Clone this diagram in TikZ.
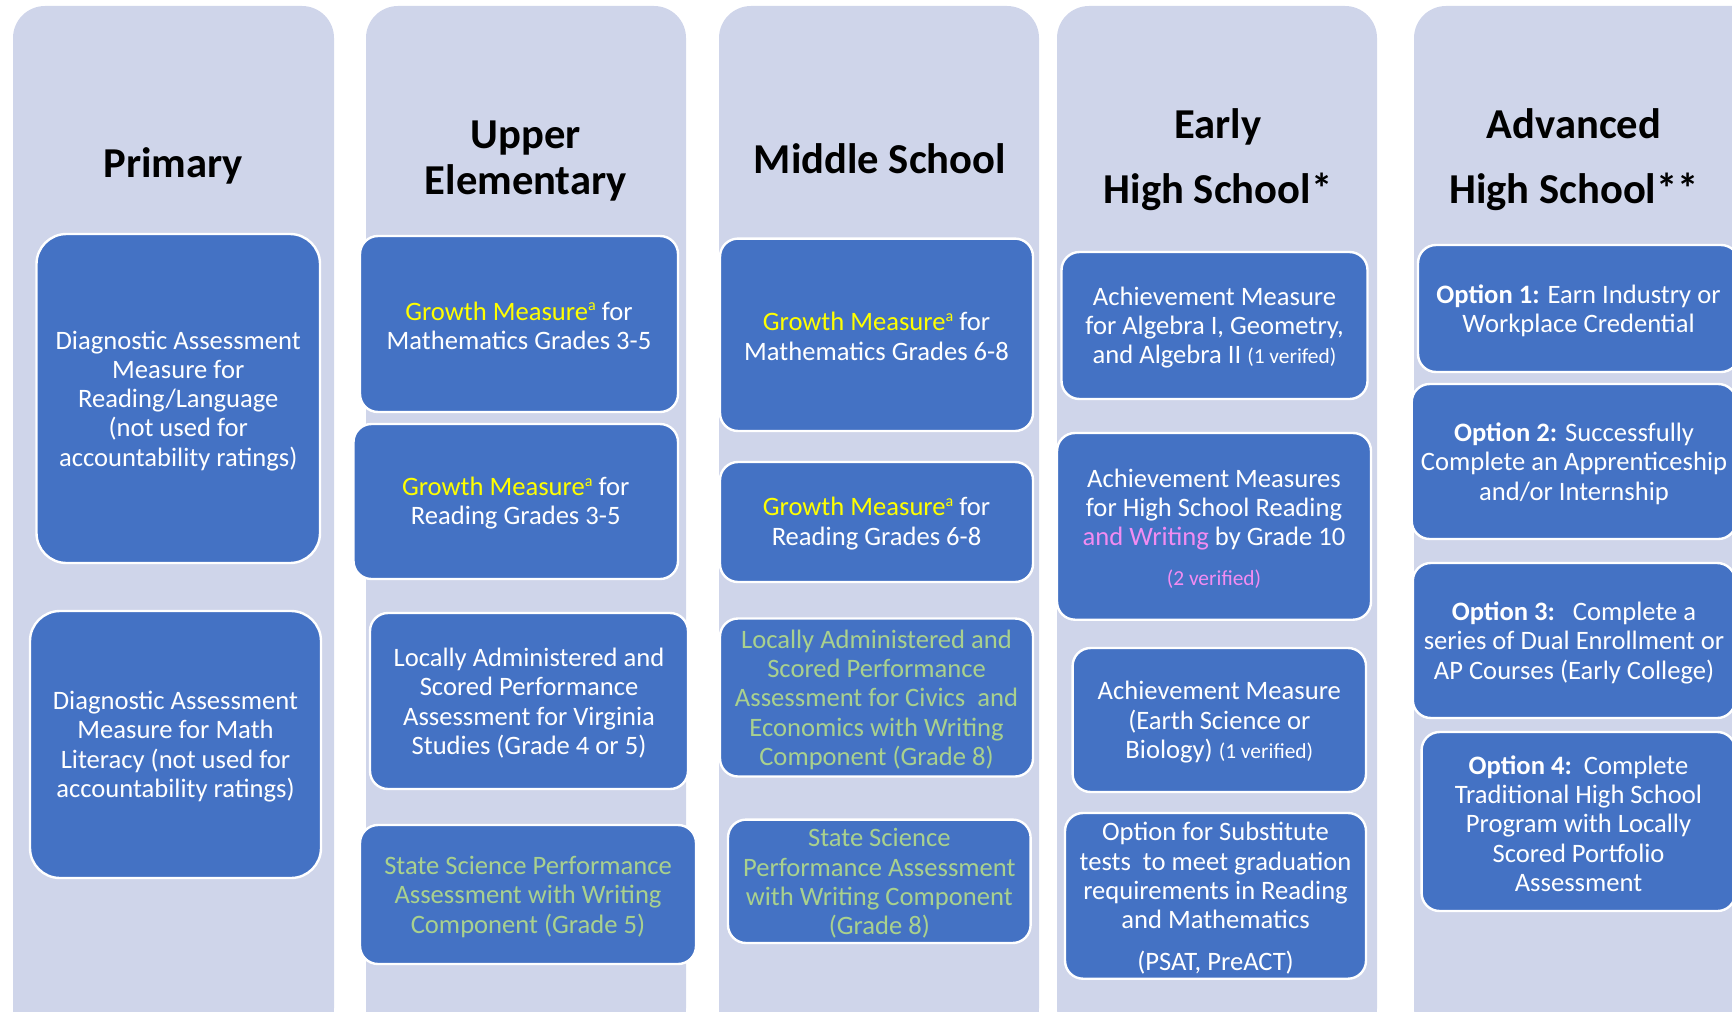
\documentclass[tikz,border=0pt]{standalone}
\usepackage{fontspec}
\setmainfont{Carlito}
\definecolor{colbg}{HTML}{CFD5EA}
\definecolor{boxblue}{HTML}{4472C4}
\definecolor{gyellow}{HTML}{FFFF00}
\definecolor{sgreen}{HTML}{A9D18E}
\definecolor{wpink}{HTML}{F28CF2}
\newcommand{\gm}{\textcolor{gyellow}{Growth Measure\raisebox{4.6pt}{\fontsize{8}{8}\selectfont a}}}
\newcommand{\smalltxt}{\fontsize{10.7}{11.5}\selectfont}
% style, text style, name, cx, cy, width, height, text
\newcommand{\bxnode}[8]{%
  \node[#1, minimum width=#6, minimum height=#7] (#3) at (#4,#5) {};
  \node[bxtext, yshift=-1.1pt, #2] (#3t) at (#3.center) {#8};}
\begin{document}
\begin{tikzpicture}[x=0.5pt,y=-0.5pt,
  colfill/.style={fill=colbg, rounded corners=16pt},
  bx/.style={draw=white, line width=1.2pt, fill=boxblue, rectangle, rounded corners=9pt, inner sep=0pt},
  bigbx/.style={bx, rounded corners=15pt},
  bxtext/.style={inner sep=0pt, align=center, text=white, font=\fontsize{13.3}{14.65}\selectfont},
  head/.style={align=center, text=black, font=\fontsize{21.3}{23}\selectfont\bfseries}]
\useasboundingbox (0,0) rectangle (1732,1011);
\clip (0,0) rectangle (1732,1011);
% columns
\fill[colfill] (13,6) rectangle (334,1040);
\fill[colfill] (366,6) rectangle (686,1040);
\fill[colfill] (719,6) rectangle (1039,1040);
\fill[colfill] (1057,6) rectangle (1377,1040);
\fill[colfill] (1414,6) rectangle (1790,1040);
% headings
\node[head] (h1) at (173.4,165.5) {Primary};
\node[head] (h2) at (525.8,161) {Upper\\Elementary};
\node[head] (h3) at (880,158.5) {Middle School};
\node[head] (h4) at (1218,159.5) {Early\\[9.5pt]High School*};
\node[head] (h5) at (1574,159.5) {Advanced\\[9.5pt]High School**};
% column 1
\bxnode{bigbx}{}{a}{178.25}{398.5}{141.75pt}{164.5pt}
  {Diagnostic Assessment\\Measure for\\Reading/Language\\(not used for\\accountability ratings)}
\bxnode{bigbx}{}{b}{175.5}{744.5}{145.5pt}{133.5pt}
  {Diagnostic Assessment\\Measure for Math\\Literacy (not used for\\accountability ratings)}
% column 2
\bxnode{bx}{yshift=0.3pt}{c}{519}{324}{159pt}{88pt}
  {\gm{} for\\Mathematics Grades 3-5}
\bxnode{bx}{yshift=0.3pt}{d}{515.75}{501.5}{162.25pt}{77.5pt}
  {\gm{} for\\Reading Grades 3-5}
\bxnode{bx}{}{e}{529}{701}{159pt}{88pt}
  {Locally Administered and\\Scored Performance\\Assessment for Virginia\\Studies (Grade 4 or 5)}
\bxnode{bx}{text=sgreen}{f}{528}{894.5}{168pt}{69.5pt}
  {State Science Performance\\Assessment with Writing\\Component (Grade 5)}
% column 3
\bxnode{bx}{yshift=0.3pt}{g}{876.5}{334.8}{156.5pt}{96.2pt}
  {\gm{} for\\Mathematics Grades 6-8}
\bxnode{bx}{yshift=0.3pt}{hh}{876.5}{522}{156.5pt}{60pt}
  {\gm{} for\\Reading Grades 6-8}
\bxnode{bx}{text=sgreen}{i}{876.5}{697.5}{156.5pt}{79pt}
  {Locally Administered and\\Scored Performance\\Assessment for Civics\ \ and\\Economics with Writing\\Component (Grade 8)}
\bxnode{bx}{text=sgreen}{j}{879.3}{881.3}{151.3pt}{61.7pt}
  {State Science\\Performance Assessment\\with Writing Component\\(Grade 8)}
% column 4
\bxnode{bx}{}{k}{1214.5}{325.5}{153pt}{73.5pt}
  {Achievement Measure\\for Algebra I, Geometry,\\and Algebra II {\smalltxt(1 verifed)}}
\bxnode{bx}{}{l}{1214}{526.35}{157pt}{93.35pt}
  {Achievement Measures\\for High School Reading\\\textcolor{wpink}{and Writing} by Grade 10\\[5pt]{\smalltxt\textcolor{wpink}{(2 verified)}}}
\bxnode{bx}{}{m}{1219.3}{720}{146.7pt}{72pt}
  {Achievement Measure\\(Earth Science or\\Biology) {\smalltxt(1 verified)}}
\bxnode{bx}{}{n}{1215.5}{895.85}{150.5pt}{82.85pt}
  {Option for Substitute\\tests\ \ to meet graduation\\requirements in Reading\\and Mathematics\\[6pt](PSAT, PreACT)}
% column 5
\bxnode{bx}{}{o}{1578.5}{308.5}{160.5pt}{63.5pt}
  {\textbf{Option 1:} Earn Industry or\\Workplace Credential}
\bxnode{bx}{}{p}{1574}{461.5}{162.3pt}{77.5pt}
  {\textbf{Option 2:} Successfully\\Complete an Apprenticeship\\and/or Internship}
\bxnode{bx}{}{q}{1574}{640.5}{161.2pt}{77.5pt}
  {\textbf{Option 3:}\ \ \ Complete a\\series of Dual Enrollment or\\AP Courses (Early College)}
\bxnode{bx}{}{r}{1578.5}{821.5}{156.9pt}{89.5pt}
  {\textbf{Option 4:}\ \ Complete\\Traditional High School\\Program with Locally\\Scored Portfolio\\Assessment}
\end{tikzpicture}
\end{document}
